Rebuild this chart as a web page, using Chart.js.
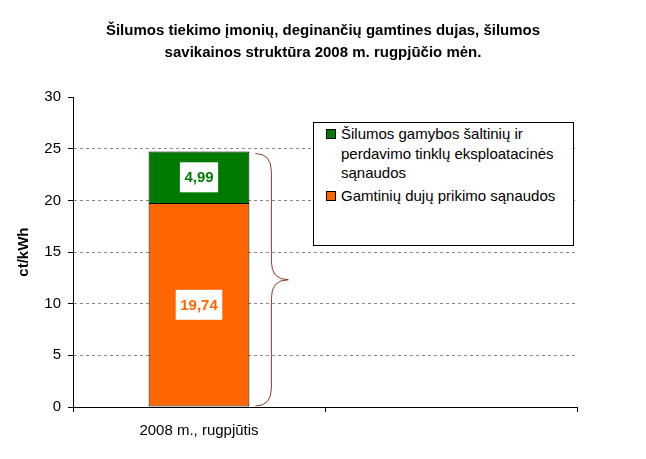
<!DOCTYPE html>
<html>
<head>
<meta charset="utf-8">
<script src="https://cdn.jsdelivr.net/npm/chart.js@4/dist/chart.umd.min.js"></script>
<style>
  body { margin: 0; background: #fff; }
  #wrap { position: relative; width: 646px; height: 459px; }
  #legend {
    position: absolute; left: 313px; top: 122px; width: 261px; height: 124px;
    box-sizing: border-box; border: 1px solid #000; background: #fff;
    font: 15px 'Liberation Sans', Arial, sans-serif; color: #000;
    padding: 1px 6px 0 12px; line-height: 19.5px;
  }
  #legend .item { position: relative; padding-left: 15px; margin-bottom: 3px; }
  #legend .sw { position: absolute; left: 0; top: 5px; width: 8px; height: 8px; border: 1px solid #000; }
</style>
</head>
<body>
<div id="wrap">
  <canvas id="c" width="646" height="459"></canvas>
  <div id="legend"></div>
</div>
<script>
/* ── Data ─────────────────────────────────────────────── */
const CATEGORIES = ['2008 m., rugpjūtis', ''];
const GAS_COST   = [19.74, null];   // Gamtinių dujų prikimo sąnaudos
const OPS_COST   = [4.99, null];    // Šilumos gamybos šaltinių ir perdavimo tinklų eksploatacinės sąnaudos
const Y_TICKS    = [0, 5, 10, 15, 20, 25, 30];
const TITLE      = ['Šilumos tiekimo įmonių, deginančių gamtines dujas, šilumos',
                    'savikainos struktūra 2008 m. rugpjūčio mėn.'];
const SERIES_NAMES = ['Gamtinių dujų prikimo sąnaudos',
                      'Šilumos gamybos šaltinių ir perdavimo tinklų eksploatacinės sąnaudos'];

const ORANGE = '#ff6600';
const GREEN  = '#007a00';
const BRACE  = '#8c3b22';
const FONT   = "'Liberation Sans', Arial, sans-serif";

Chart.defaults.font.family = FONT;
Chart.defaults.color = '#000';

/* ── Legend (HTML) ───────────────────────────────────── */
const legend = document.getElementById('legend');
legend.innerHTML = [
    { name: SERIES_NAMES[1], color: GREEN },
    { name: SERIES_NAMES[0], color: ORANGE },
].map(it => `<div class="item"><span class="sw" style="background:${it.color}"></span>${it.name}</div>`).join('');

/* ── Value labels inside the bar segments ────────────── */
const valueLabels = {
    id: 'valueLabels',
    afterDatasetsDraw(chart) {
        const ctx = chart.ctx;
        ctx.save();
        ctx.font = 'bold 15px ' + FONT;
        ctx.textAlign = 'center';
        ctx.textBaseline = 'middle';
        chart.data.datasets.forEach((ds, di) => {
            chart.getDatasetMeta(di).data.forEach((bar, i) => {
                const v = ds.data[i];
                if (v == null) return;
                const txt = v.toFixed(2).replace('.', ',');
                const cy = (bar.y + bar.base) / 2;
                const w = ctx.measureText(txt).width + 9;
                ctx.fillStyle = '#fff';
                ctx.fillRect(bar.x - w / 2, cy - 15, w, 30);
                ctx.fillStyle = ds.backgroundColor;
                ctx.fillText(txt, bar.x, cy + 1);
            });
        });
        ctx.restore();
    }
};

/* ── Curly brace right of the stacked bar ────────────── */
const bracePlugin = {
    id: 'brace',
    afterDatasetsDraw(chart) {
        const top = chart.getDatasetMeta(1).data[0];
        if (!top) return;
        const yTop = top.y + 2, yBot = chart.scales.y.getPixelForValue(0) - 1;
        const x0 = top.x + top.width / 2 + 6;
        const xm = x0 + 16, xt = x0 + 33;
        const ymid = (yTop + yBot) / 2;
        const r = 18;
        const ctx = chart.ctx;
        ctx.save();
        ctx.strokeStyle = BRACE;
        ctx.lineWidth = 1;
        ctx.beginPath();
        ctx.moveTo(x0, yTop);
        ctx.quadraticCurveTo(xm, yTop, xm, yTop + r);
        ctx.lineTo(xm, ymid - r);
        ctx.quadraticCurveTo(xm, ymid, xt, ymid);
        ctx.quadraticCurveTo(xm, ymid, xm, ymid + r);
        ctx.lineTo(xm, yBot - r);
        ctx.quadraticCurveTo(xm, yBot, x0, yBot);
        ctx.stroke();
        ctx.restore();
    }
};

new Chart(document.getElementById('c'), {
    type: 'bar',
    data: {
        labels: CATEGORIES,
        datasets: [
            { label: SERIES_NAMES[0], data: GAS_COST, backgroundColor: ORANGE,
              borderColor: '#000', borderWidth: 1, borderSkipped: false },
            { label: SERIES_NAMES[1], data: OPS_COST, backgroundColor: GREEN,
              borderColor: '#000', borderWidth: 1, borderSkipped: 'bottom' },
        ]
    },
    plugins: [valueLabels, bracePlugin],
    options: {
        responsive: false,
        animation: false,
        layout: { padding: 0 },
        categoryPercentage: 0.8,
        barPercentage: 0.5,
        plugins: {
            legend: { display: false },
            tooltip: { enabled: false },
            title: {
                display: true, text: TITLE, color: '#000',
                font: { size: 15, weight: 'bold', lineHeight: 1.47 },
                padding: { top: 20, bottom: 33 }
            }
        },
        scales: {
            x: {
                stacked: true,
                grid: { display: true, drawOnChartArea: false, offset: true, tickLength: 5, tickColor: '#000' },
                border: { color: '#000', width: 1 },
                ticks: { font: { size: 15 }, padding: 10 },
                afterFit: s => { s.height = 52; }
            },
            y: {
                stacked: true, min: 0, max: 30,
                afterBuildTicks: s => { s.ticks = Y_TICKS.map(v => ({ value: v })); },
                grid: {
                    color: c => (c.tick && (c.tick.value === 0 || c.tick.value === 30)) ? 'rgba(0,0,0,0)' : '#8a8a8a',
                    tickColor: '#000', tickLength: 5
                },
                border: { color: '#000', width: 1, dash: [3, 3] },
                ticks: { font: { size: 15 }, padding: 7 },
                title: { display: true, text: 'ct/kWh', font: { size: 15, weight: 'bold' }, padding: { top: 15, bottom: 0 } },
                afterFit: s => { s.width = 73; }
            },
            // empty right-hand axis: only reserves the space right of the plot
            yRight: {
                position: 'right', display: true,
                grid: { display: false }, border: { display: false },
                ticks: { display: false },
                afterFit: s => { s.width = 69; }
            }
        }
    }
});
</script>
</body>
</html>
